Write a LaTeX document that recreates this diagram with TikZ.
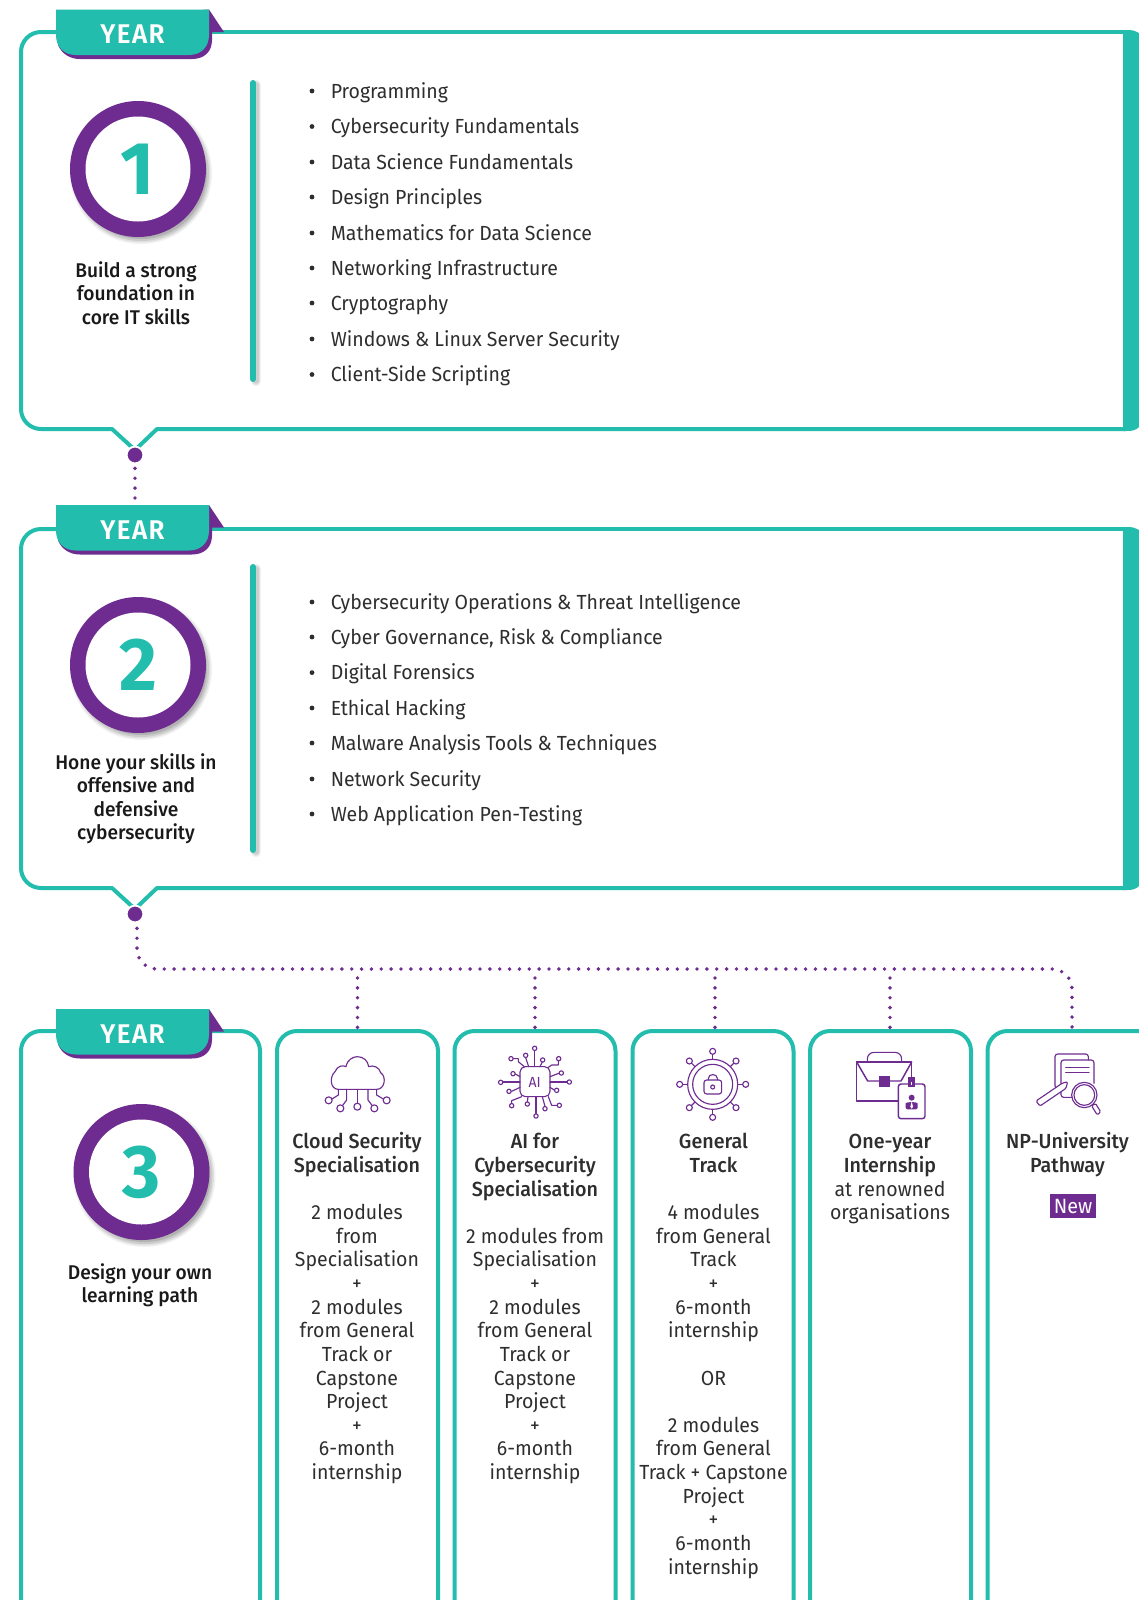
\documentclass[tikz,border=0pt]{standalone}
\usepackage{fontspec}
\setmainfont{Fira Sans}[FakeStretch=0.955,BoldFont={Fira Sans Medium},BoldFeatures={FakeStretch=0.965}]
\newfontfamily\heavy{Fira Sans SemiBold}[FakeStretch=0.96]
\newfontfamily\numfont{Fira Sans}[FakeStretch=0.98,UprightFont={* Bold}]
\definecolor{teal1}{HTML}{22BDAC}
\definecolor{purp}{HTML}{6E2C91}
\definecolor{ink}{HTML}{2E2E2E}
\usetikzlibrary{calc}
\tikzset{
  cardline/.style={draw=teal1,line width=3pt,line join=round},
  cardbox/.style={cardline,rectangle,rounded corners=15pt,anchor=north west,inner sep=0pt,outer sep=0pt,minimum width=120.75pt,minimum height=450pt},
  dotline/.style={draw=purp,line width=2.9pt,line cap=round,dash pattern=on 0pt off 7.4pt},
  dotnode/.style={circle,fill=purp,draw=white,line width=1.4pt,minimum size=12.6pt,inner sep=0pt,outer sep=0pt},
  vbar/.style={draw=teal1,line width=4.5pt,line cap=round},
  item/.style={anchor=base west,inner sep=0pt,font=\fontsize{15.3}{18}\selectfont,text=ink},
  bull/.style={circle,fill=ink,inner sep=0pt,minimum size=3.6pt},
  caption/.style={align=center,anchor=north,inner sep=0pt,font=\fontsize{14.9}{17.6}\selectfont\bfseries,text=black!90},
  coltext/.style={align=center,anchor=north,inner sep=0pt,font=\fontsize{15.3}{17.72}\selectfont,text=ink},
  ic/.style={draw=purp,line width=.85pt,line join=round,line cap=round},
  yeartab/.pic={
    \fill[purp] (209,9.5) -- (224,32) -- (212,32) -- (212,40) .. controls (212,52) and (204,59) .. (192,59) -- (80,59) .. controls (70,59) and (62,54) .. (58,45) -- (58,20) -- cycle;
    \fill[teal1] (56,9.5) -- (209,9.5) -- (209,35) .. controls (209,47) and (201,55) .. (189,55) -- (76,55) .. controls (64,55) and (56,47) .. (56,35) -- cycle;
    \node[text=white,inner sep=0pt,font=\fontsize{20.3}{21}\heavy\addfontfeature{LetterSpace=5}] (-label) at (132.5,34.2) {YEAR};
  },
  yearring/.pic={
    \foreach \r/\o in {71/.05,69.5/.07,68/.09,66/.12}{\fill[black,opacity=\o] (3,4) circle[x=.75pt,y=.75pt,radius=\r];}
    \fill[purp] (0,0) circle[x=.75pt,y=.75pt,radius=68];
    \fill[white] (0,0) circle[x=.75pt,y=.75pt,radius=52.5];
  },
}
\newcommand{\vbarshadow}[3]{\foreach \w/\o in {8/.05,6/.07,4/.08}{\draw[black,opacity=\o,line width=\w pt,line cap=round] (#1+3,#2+2) -- (#1+3,#3+2);}}
\begin{document}
\begin{tikzpicture}[x=.75pt,y=-.75pt]
\useasboundingbox (0,0) rectangle (1139,1600);
\fill[white] (0,0) rectangle (1139,1600);
% ----- year 1 card
\fill[teal1] (1123,30) -- (1127,30) .. controls (1133,30) and (1136,31) .. (1139,33) -- (1139,427) .. controls (1136,430) and (1133,431) .. (1127,431) -- (1123,431) -- cycle;
\draw[cardline] (200,32) -- (1125,32);
\draw[cardline] (1125,429) -- (157,429) -- (135,450) -- (112,429) [rounded corners=15pt] -- (21,429) -- (21,32) -- (60,32);
% ----- year 2 card
\fill[teal1] (1123,527) -- (1127,527) .. controls (1133,527) and (1136,528) .. (1139,530) -- (1139,886) .. controls (1136,889) and (1133,890) .. (1127,890) -- (1123,890) -- cycle;
\draw[cardline] (200,529) -- (1125,529);
\draw[cardline] (1125,888) -- (157,888) -- (135,909) -- (112,888) [rounded corners=15pt] -- (21,888) -- (21,529) -- (60,529);
% ----- year 3 cards
\node[cardbox,minimum width=179.25pt] (c0) at (21,1031) {};
\node[cardbox] (c1) at (277,1031) {};
\node[cardbox] (c2) at (454.5,1031) {};
\node[cardbox] (c3) at (632.5,1031) {};
\node[cardbox] (c4) at (810,1031) {};
\node[cardbox,minimum width=160pt] (c5) at (987.5,1031) {};
% ----- connector dots and spine
\node[dotnode] (d1) at (135,455) {};
\node[dotnode] (d2) at (135,914) {};
\coordinate (t2top) at (135,505);
\coordinate (j1) at (357,969);
\coordinate (j2) at (535,969);
\coordinate (j3) at (715,969);
\coordinate (j4) at (890,969);
\coordinate (j5) at (1072,969);
\coordinate (t5) at (1072,1031);
\coordinate (t1) at (357.5,1031);
\coordinate (t2) at (535,1031);
\coordinate (t3) at (715,1031);
\coordinate (t4) at (890,1031);
\draw[dotline] (d1.south) ++(0,5) -- (t2top);
\draw[dotline,rounded corners=15pt] ($(d2.south)+(2,6)$) |- (j5) -- ($(t5)+(0,-3)$);
\draw[dotline] (j1) ++(0.5,9) -- ($(t1)+(0,-3)$);
\draw[dotline] (j2) ++(0,9) -- ($(t2)+(0,-3)$);
\draw[dotline] (j3) ++(0,9) -- ($(t3)+(0,-3)$);
\draw[dotline] (j4) ++(0,9) -- ($(t4)+(0,-3)$);
% ----- tabs
\pic (ty1) at (0,0) {yeartab};
\pic (ty2) at (0,495.5) {yeartab};
\pic (ty3) at (0,999.5) {yeartab};
% ----- rings and numbers
\pic at (138,169) {yearring};
\pic at (138,665) {yearring};
\pic at (141.5,1172) {yearring};
\node[text=teal1,inner sep=0pt,font=\fontsize{56}{60}\numfont] (n1) at (137,169) {1};
\node[text=teal1,inner sep=0pt,font=\fontsize{56}{60}\numfont] (n2) at (138,665) {2};
\node[text=teal1,inner sep=0pt,font=\fontsize{56}{60}\numfont] (n3) at (142,1172) {3};
% ----- captions
\node[caption] (cap1) at (136,261) {Build a strong\\foundation in\\core IT skills};
\node[caption] (cap2) at (136,753) {Hone your skills in\\offensive and\\defensive\\cybersecurity};
\node[caption] (cap3) at (140,1263) {Design your own\\learning path};
% ----- vertical bars
\vbarshadow{253}{83}{379}
\vbarshadow{253}{567}{850}
\draw[vbar] (253,83) -- (253,379);
\draw[vbar] (253,567) -- (253,850);
% ----- lists
\foreach \y/\t [count=\i] in {
  91/Programming,126.5/Cybersecurity Fundamentals,162/Data Science Fundamentals,197/Design Principles,233/Mathematics for Data Science,268/Networking Infrastructure,303/Cryptography,339/Windows \& Linux Server Security,374.5/Client-Side Scripting}{
  \node[bull] (ba\i) at (312,\y) {};
  \node[item] (ia\i) at (330.5,\y+7) {\t};
}
\foreach \y/\t [count=\i] in {
  602/Cybersecurity Operations \& Threat Intelligence,637/{Cyber Governance, Risk \& Compliance},672.6/Digital Forensics,708/Ethical Hacking,743/Malware Analysis Tools \& Techniques,779/Network Security,814/Web Application Pen-Testing}{
  \node[bull] (bb\i) at (312,\y) {};
  \node[item] (ib\i) at (330.5,\y+7) {\t};
}
% ----- column texts
\node[coltext] (col1) at (357,1132) {\strut\textbf{Cloud Security}\\\textbf{Specialisation}\\[17.72pt]2 modules\\from\\Specialisation\\+\\2 modules\\from General\\Track or\\Capstone\\Project\\+\\6-month\\internship};
\node[coltext] (col2) at (535,1132) {\strut\textbf{AI for}\\\textbf{Cybersecurity}\\\textbf{Specialisation}\\[17.72pt]2 modules from\\Specialisation\\+\\2 modules\\from General\\Track or\\Capstone\\Project\\+\\6-month\\internship};
\node[coltext] (col3) at (713.5,1132) {\strut\textbf{General}\\\textbf{Track}\\[17.72pt]4 modules\\from General\\Track\\+\\6-month\\internship\\\mbox{}\\OR\\\mbox{}\\2 modules\\from General\\Track + Capstone\\Project\\+\\6-month\\internship};
\node[coltext] (col4) at (890,1132) {\strut\textbf{One-year}\\\textbf{Internship}\\at renowned\\organisations};
\node[coltext] (col5) at (1067.5,1132) {\strut\textbf{NP-University}\\\textbf{Pathway}};
\node[fill=purp,text=white,inner sep=0pt,minimum width=34.5pt,minimum height=18pt,font=\fontsize{15.5}{16}\selectfont] (newtag) at (1073,1206) {New};
% ----- cloud icon
\begin{scope}[shift={(290,1030)},x=.25pt,y=-.25pt]
\draw[ic] (145,178) .. controls (120,178) and (118,140) .. (135,125) .. controls (142,108) and (158,104) .. (168,110) .. controls (172,88) and (190,80) .. (202,80) .. controls (220,80) and (234,92) .. (236,110) .. controls (250,104) and (268,112) .. (272,128) .. controls (290,140) and (285,178) .. (260,178) -- cycle;
\draw[ic] (145,178) -- (145,195) -- (126,207);
\draw[ic] (170,178) -- (170,210) -- (158,226);
\draw[ic] (202,178) -- (202,220);
\draw[ic] (234,178) -- (234,210) -- (246,226);
\draw[ic] (260,178) -- (260,195) -- (280,207);
\foreach \p in {(116,211),(151,235),(202,230),(253,235),(290,211)}{\draw[ic] \p circle[x=.25pt,y=.25pt,radius=10.5];}
\end{scope}
% ----- AI icon
\begin{scope}[shift={(290,1030)},x=.25pt,y=-.25pt]
\draw[ic,rounded corners=4pt] (690,110) rectangle (780,200);
\node[text=purp,inner sep=0pt,font=\fontsize{11}{12}\selectfont] (ailabel) at (734,156) {AI};
\draw[ic] (734,110)--(734,62) (738,200)--(738,250) (690,156)--(640,156) (780,156)--(830,156);
\draw[ic] (716,110)--(707,83) (703,110)--(685,95)--(685,86)--(671,86) (690,140)--(676,132) (690,172)--(665,184);
\draw[ic] (695,200)--(665,212)--(665,220) (714,200)--(712,216) (757,200)--(765,229) (775,200)--(785,226)--(801,226);
\draw[ic] (780,172)--(793,180) (780,140)--(806,130) (775,112)--(785,105)--(805,105)--(805,93) (750,110)--(757,96);
\foreach \p in {(734,55),(738,258),(632,157),(838,156),(707,76),(663,86),(669,131),(657,184),(665,227),(712,222),(765,236),(808,226),(800,181),(814,129),(806,86),(758,90)}{\draw[ic] \p circle[x=.25pt,y=.25pt,radius=6.5];}
\end{scope}
% ----- general icon
\begin{scope}[shift={(640,1030)},x=.25pt,y=-.25pt]
\draw[ic] (218,163) circle[x=.25pt,y=.25pt,radius=75];
\draw[ic] (218,163) circle[x=.25pt,y=.25pt,radius=60];
\foreach \a in {0,45,...,315}{
  \draw[ic] ($(218,163)+(\a:75)$) -- ($(218,163)+(\a:90)$);
  \draw[ic] ($(218,163)+(\a:99)$) circle[x=.25pt,y=.25pt,radius=9];
}
\draw[ic,rounded corners=2pt] (192,150) rectangle (245,192);
\draw[ic] (205,150) -- (205,145) .. controls (205,130) and (232,130) .. (232,145) -- (232,150);
\draw[ic] (218,171) circle[x=.25pt,y=.25pt,radius=6];
\end{scope}
% ----- briefcase icon
\begin{scope}[shift={(640,1030)},x=.25pt,y=-.25pt]
\draw[ic,line width=1.2pt,line cap=butt] (815,141) -- (815,96) -- (650,96) -- (650,213) -- (775,213);
\draw[ic,rounded corners=5pt] (682,96) -- (682,67) -- (785,67) -- (785,96);
\draw[ic,line width=1.1pt] (650,96) -- (683,153) -- (783,153) -- (815,96);
\fill[purp] (716,138) rectangle (750,170);
\draw[ic,rounded corners=2pt,line width=1.1pt] (775,162) rectangle (855,266);
\fill[purp] (805,141) rectangle (825,172);
\fill[white] (813,155) rectangle (817,165);
\fill[purp] (815,203) circle[x=.25pt,y=.25pt,radius=9];
\fill[purp,rounded corners=1.5pt] (797,238) -- (797,226) .. controls (797,215) and (833,215) .. (833,226) -- (833,238) -- cycle;
\fill[white] (815,214) -- (819,230) -- (815,236) -- (811,230) -- cycle;
\end{scope}
% ----- pathway icon
\begin{scope}[shift={(980,1020)},x=.25pt,y=-.25pt]
\draw[ic,rounded corners=2pt] (243,205) -- (225,205) -- (225,102) -- (325,102) -- (325,120);
\draw[ic,rounded corners=2pt] (275,232) -- (243,232) -- (243,120) -- (342,120) -- (342,190);
\draw[ic] (257,142) -- (327,142) (257,158) -- (327,158);
\draw[ic,fill=white,rounded corners=1pt] (263,185) -- (258,205) -- (180,258) -- (168,243) -- (246,190) -- cycle;
\draw[ic,fill=white] (313,225) circle[x=.25pt,y=.25pt,radius=38];
\draw[ic] (313,225) circle[x=.25pt,y=.25pt,radius=31];
\draw[ic,rounded corners=1pt,fill=white] (335,258) -- (346,250) -- (362,275) -- (352,285) -- cycle;
\end{scope}
\end{tikzpicture}
\end{document}
